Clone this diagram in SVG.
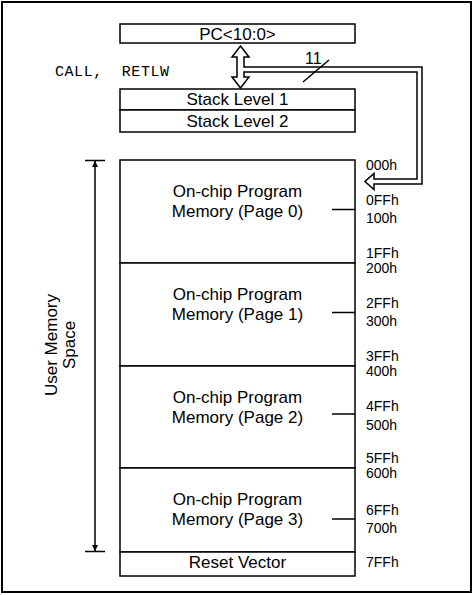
<svg xmlns="http://www.w3.org/2000/svg" width="473" height="595" viewBox="0 0 473 595">
<style>
.box{fill:#fff;stroke:#000;stroke-width:1.5}
.ln{stroke:#000;stroke-width:1.5;fill:none}
.lbl{font-family:"Liberation Sans",Arial,sans-serif;font-size:17px;fill:#000;text-anchor:middle}
.adr{font-family:"Liberation Sans",Arial,sans-serif;font-size:14px;fill:#000}
.num{font-family:"Liberation Sans",Arial,sans-serif;font-size:16px;fill:#000}
.mono{font-family:"Liberation Mono","Courier New",monospace;font-size:15px;fill:#000}
</style>
<defs>
<marker id="ah" viewBox="0 0 10 10" refX="10" refY="5" markerWidth="8" markerHeight="6" markerUnits="userSpaceOnUse" orient="auto-start-reverse">
<path d="M0,0 L10,5 L0,10 Z" fill="#000"/>
</marker>
</defs>
<rect x="2" y="2" width="469" height="590" fill="#fff" stroke="#000" stroke-width="2"/>

<g id="pc">
<rect class="box" x="120" y="24" width="235" height="19"/>
<text class="lbl" x="237.5" y="40">PC&lt;10:0&gt;</text>
</g>
<g id="stack1">
<rect class="box" x="120" y="89" width="235" height="21"/>
<text class="lbl" x="237.5" y="105">Stack Level 1</text>
</g>
<g id="stack2">
<rect class="box" x="120" y="110" width="235" height="22"/>
<text class="lbl" x="237.5" y="127">Stack Level 2</text>
</g>

<g id="page0">
<rect class="box" x="120" y="160" width="235" height="103"/>
<text class="lbl" x="237.5" y="197">On-chip Program</text>
<text class="lbl" x="237.5" y="217">Memory (Page 0)</text>
<line class="ln" x1="332" y1="209.5" x2="355" y2="209.5"/>
</g>
<g id="page1">
<rect class="box" x="120" y="263" width="235" height="103"/>
<text class="lbl" x="237.5" y="300">On-chip Program</text>
<text class="lbl" x="237.5" y="320">Memory (Page 1)</text>
<line class="ln" x1="332" y1="312.5" x2="355" y2="312.5"/>
</g>
<g id="page2">
<rect class="box" x="120" y="366" width="235" height="102"/>
<text class="lbl" x="237.5" y="403">On-chip Program</text>
<text class="lbl" x="237.5" y="423">Memory (Page 2)</text>
<line class="ln" x1="332" y1="414" x2="355" y2="414"/>
</g>
<g id="page3">
<rect class="box" x="120" y="468" width="235" height="84"/>
<text class="lbl" x="237.5" y="505">On-chip Program</text>
<text class="lbl" x="237.5" y="525">Memory (Page 3)</text>
<line class="ln" x1="332" y1="519" x2="355" y2="519"/>
</g>
<g id="reset">
<rect class="box" x="120" y="552" width="235" height="24"/>
<text class="lbl" x="237.5" y="568">Reset Vector</text>
</g>

<g id="addresses">
<text class="adr" x="366" y="170">000h</text>
<text class="adr" x="366" y="205">0FFh</text>
<text class="adr" x="366" y="223">100h</text>
<text class="adr" x="366" y="258">1FFh</text>
<text class="adr" x="366" y="273">200h</text>
<text class="adr" x="366" y="308">2FFh</text>
<text class="adr" x="366" y="326">300h</text>
<text class="adr" x="366" y="361">3FFh</text>
<text class="adr" x="366" y="376">400h</text>
<text class="adr" x="366" y="411">4FFh</text>
<text class="adr" x="366" y="430">500h</text>
<text class="adr" x="366" y="463">5FFh</text>
<text class="adr" x="366" y="478">600h</text>
<text class="adr" x="366" y="515">6FFh</text>
<text class="adr" x="366" y="533">700h</text>
<text class="adr" x="366" y="567">7FFh</text>
</g>

<g id="user-space">
<text class="lbl" transform="translate(57,345) rotate(-90)">User Memory</text>
<text class="lbl" transform="translate(75,345) rotate(-90)">Space</text>
</g>

<g id="connectors">
<path d="M240.5,46 L249,57 L244,57 L244,67 L422,67 L422,184 L374,184 L374,189.5 L365,181.5 L374,173.5 L374,179 L417,179 L417,72 L244,72 L244,77 L249,77 L240.5,88 L232,77 L237,77 L237,57 L232,57 Z" fill="#fff" stroke="#000" stroke-width="1.5" stroke-linejoin="miter"/>
<line class="ln" x1="303" y1="82" x2="329" y2="60"/>
<text class="num" x="305" y="64">11</text>
<text class="mono" x="55" y="76" xml:space="preserve" textLength="114" lengthAdjust="spacing">CALL,  RETLW</text>
<line class="ln" x1="95" y1="161" x2="95" y2="551" marker-start="url(#ah)" marker-end="url(#ah)"/>
<line class="ln" x1="85" y1="160.5" x2="105" y2="160.5"/>
<line class="ln" x1="85" y1="551.5" x2="105" y2="551.5"/>
</g>
</svg>
